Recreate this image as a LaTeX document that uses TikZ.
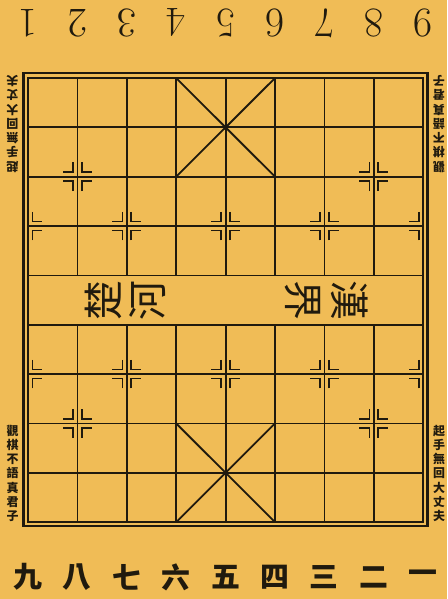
\documentclass[tikz,border=0pt]{standalone}
\usepackage{fontspec}
\newfontfamily\cjk{Noto Sans CJK TC}
\definecolor{boardtan}{RGB}{240,188,86}
\definecolor{ink}{RGB}{32,26,14}
\tikzset{
  gridline/.style={draw=ink, line width=1.8bp},
  hint/.style={draw=ink, line width=1.6bp},
  digit/.style={font=\fontsize{42}{42}\selectfont, text=ink, inner sep=0pt},
  numeral/.style={font=\cjk\bfseries\fontsize{29}{29}\selectfont, text=ink, inner sep=0pt},
  river/.style={font=\cjk\fontsize{40}{40}\selectfont, text=ink, inner sep=0pt},
  slogan/.style={font=\cjk\bfseries\fontsize{12}{14.3}\selectfont, text=ink, align=center, inner sep=0pt},
}
% marcas de cannon y soldado, a cada lado del punto
\newcommand{\hintright}[2]{%
  \draw[hint, shift={(#1,#2)}] (0.09,-0.29) -- (0.09,-0.09) -- (0.29,-0.09)
    (0.09,0.29) -- (0.09,0.09) -- (0.29,0.09);}
\newcommand{\hintleft}[2]{%
  \draw[hint, shift={(#1,#2)}] (-0.09,-0.29) -- (-0.09,-0.09) -- (-0.29,-0.09)
    (-0.09,0.29) -- (-0.09,0.09) -- (-0.29,0.09);}
\begin{document}
\begin{tikzpicture}[x=49.4bp, y=-49.35bp]
    % Fondo
    \fill[boardtan] (-0.567,-1.581) rectangle (8.482,10.557);
    \useasboundingbox (-0.567,-1.581) rectangle (8.482,10.557);
    % Marco
    \draw[ink, line width=2.6bp] (-0.09,-0.1) rectangle (8.09,9.08);
    \draw[gridline] (0,0) rectangle (8,9);
    % Lineas horizontales
    \foreach \r in {1,...,8}
        \draw[gridline] (0,\r) -- (8,\r);
    % Lineas verticales, cortadas por el rio
    \foreach \c in {1,...,7} {
        \draw[gridline] (\c,0) -- (\c,4);
        \draw[gridline] (\c,5) -- (\c,9);
    }
    % Palacios
    \draw[gridline] (3,0) -- (5,2) (5,0) -- (3,2);
    \draw[gridline] (3,7) -- (5,9) (5,7) -- (3,9);
    % Marcas de cannones y soldados
    \foreach \c/\r in {1/2,7/2,1/7,7/7,2/3,4/3,6/3,2/6,4/6,6/6}
        {\hintleft{\c}{\r}\hintright{\c}{\r}}
    \foreach \r in {3,6}
        {\hintright{0}{\r}\hintleft{8}{\r}}
    % Rio
    \node[river, rotate=90] (chu) at (1.52,4.5) {楚};
    \node[river, rotate=90] (he) at (2.43,4.5) {河};
    \node[river, rotate=-90] (jie) at (5.57,4.5) {界};
    \node[river, rotate=-90] (han) at (6.52,4.5) {漢};
    % Numeros de columna
    \foreach \n in {1,...,9}
        \node[digit, rotate=180] (top\n) at (\n-1,-1.115) {\n};
    \foreach \c/\z in {0/九,1/八,2/七,3/六,4/五,5/四,6/三,7/二,8/一}
        \node[numeral] (bot\c) at (\c,10.11) {\z};
    % Lemas laterales
    \node[slogan, rotate=180] (sloganTL) at (-0.314,0.93) {起\\手\\無\\回\\大\\丈\\夫};
    \node[slogan, rotate=180] (sloganTR) at (8.32,0.93) {觀\\棋\\不\\語\\真\\君\\子};
    \node[slogan] (sloganBL) at (-0.314,8.01) {觀\\棋\\不\\語\\真\\君\\子};
    \node[slogan] (sloganBR) at (8.32,8.01) {起\\手\\無\\回\\大\\丈\\夫};
\end{tikzpicture}
\end{document}
